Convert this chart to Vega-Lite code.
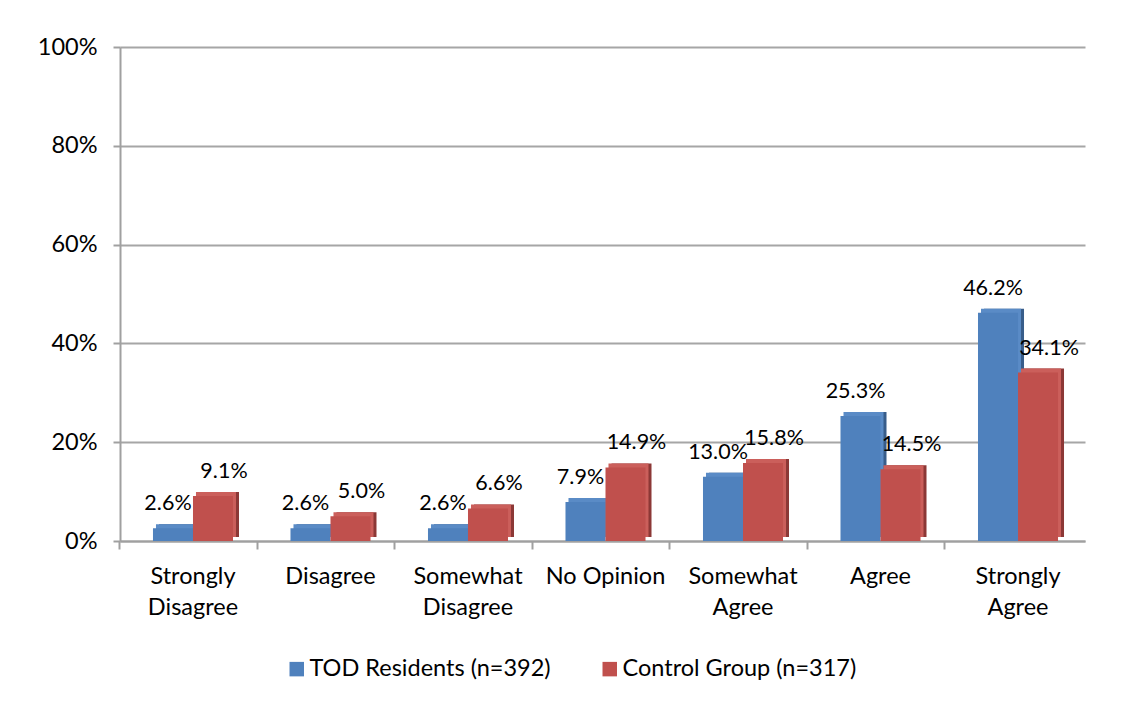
{
  "$schema": "https://vega.github.io/schema/vega-lite/v6.json",
  "width": 965,
  "height": 494,
  "autosize": "none",
  "padding": {"left": 120, "top": 47, "right": 48, "bottom": 166},
  "background": "white",
  "config": {
    "font": "Lato",
    "view": {"stroke": null},
    "axis": {"labelFont": "Lato", "labelFontSize": 23.5, "labelColor": "#000000", "domainColor": "#A0A0A0", "domainWidth": 2, "tickColor": "#A0A0A0", "tickWidth": 2, "gridColor": "#A6A6A6", "gridWidth": 2},
    "legend": {"labelFont": "Lato", "labelFontSize": 23.5, "labelColor": "#000000", "labelLimit": 0}
  },
  "data": {
    "values": [
      {"cat": "Strongly Disagree", "group": "TOD Residents (n=392)", "value": 0.026},
      {"cat": "Strongly Disagree", "group": "Control Group (n=317)", "value": 0.091},
      {"cat": "Disagree", "group": "TOD Residents (n=392)", "value": 0.026},
      {"cat": "Disagree", "group": "Control Group (n=317)", "value": 0.050},
      {"cat": "Somewhat Disagree", "group": "TOD Residents (n=392)", "value": 0.026},
      {"cat": "Somewhat Disagree", "group": "Control Group (n=317)", "value": 0.066},
      {"cat": "No Opinion", "group": "TOD Residents (n=392)", "value": 0.079},
      {"cat": "No Opinion", "group": "Control Group (n=317)", "value": 0.149},
      {"cat": "Somewhat Agree", "group": "TOD Residents (n=392)", "value": 0.130},
      {"cat": "Somewhat Agree", "group": "Control Group (n=317)", "value": 0.158},
      {"cat": "Agree", "group": "TOD Residents (n=392)", "value": 0.253},
      {"cat": "Agree", "group": "Control Group (n=317)", "value": 0.145},
      {"cat": "Strongly Agree", "group": "TOD Residents (n=392)", "value": 0.462},
      {"cat": "Strongly Agree", "group": "Control Group (n=317)", "value": 0.341}
    ]
  },
  "encoding": {
    "x": {
      "field": "cat", "type": "nominal", "sort": null, "title": null,
      "scale": {"paddingInner": 0.418, "paddingOuter": 0.218, "align": 0.55},
      "axis": {"labelAngle": 0, "bandPosition": -0.4125, "tickSize": 8, "labelPadding": 15, "labelLineHeight": 31, "labelExpr": "datum.label == 'No Opinion' ? datum.label : split(datum.label, ' ')"}
    },
    "y": {
      "field": "value", "type": "quantitative", "title": null,
      "scale": {"domain": [0, 1]},
      "axis": {"values": [0, 0.2, 0.4, 0.6, 0.8, 1], "format": ".0%", "tickSize": 7, "labelPadding": 16, "grid": true}
    }
  },
  "layer": [
    {
      "transform": [{"filter": "datum.group == 'TOD Residents (n=392)'"}],
      "mark": {"type": "bar", "width": {"band": 0.5}, "xOffset": -14, "yOffset": -4, "color": "#385D8A"}
    },
    {
      "transform": [{"filter": "datum.group == 'TOD Residents (n=392)'"}],
      "mark": {"type": "bar", "width": {"band": 0.5}, "xOffset": -17, "yOffset": -4, "color": "#5A8BC6"}
    },
    {
      "transform": [{"filter": "datum.group == 'Control Group (n=317)'"}],
      "mark": {"type": "bar", "width": {"band": 0.5}, "xOffset": 26, "yOffset": -4, "color": "#8C3836"}
    },
    {
      "transform": [{"filter": "datum.group == 'Control Group (n=317)'"}],
      "mark": {"type": "bar", "width": {"band": 0.5}, "xOffset": 23, "yOffset": -4, "color": "#CB5F5B"}
    },
    {
      "mark": {"type": "bar"},
      "encoding": {
        "xOffset": {"field": "group", "type": "nominal", "sort": ["TOD Residents (n=392)", "Control Group (n=317)"], "scale": {"paddingInner": 0, "paddingOuter": 0}},
        "color": {
          "field": "group", "type": "nominal", "title": null,
          "sort": ["TOD Residents (n=392)", "Control Group (n=317)"],
          "scale": {"domain": ["TOD Residents (n=392)", "Control Group (n=317)"], "range": ["#4F81BD", "#C0504D"]},
          "legend": {"orient": "none", "legendX": 165, "legendY": 610, "direction": "horizontal", "columns": 2, "columnPadding": 47, "symbolType": "square", "symbolSize": 210, "symbolStrokeWidth": 0, "labelOffset": 1}
        }
      }
    },
    {
      "transform": [{"filter": "datum.group == 'TOD Residents (n=392)'"}],
      "mark": {"type": "text", "baseline": "bottom", "dy": -13, "dx": -25, "fontSize": 21.5, "font": "Lato", "color": "#000000"},
      "encoding": {
        "text": {"field": "value", "type": "quantitative", "format": ".1%"}
      }
    },
    {
      "transform": [{"filter": "datum.group == 'Control Group (n=317)'"}],
      "mark": {"type": "text", "baseline": "bottom", "dy": -13, "dx": 31, "fontSize": 21.5, "font": "Lato", "color": "#000000"},
      "encoding": {
        "text": {"field": "value", "type": "quantitative", "format": ".1%"}
      }
    }
  ]
}
